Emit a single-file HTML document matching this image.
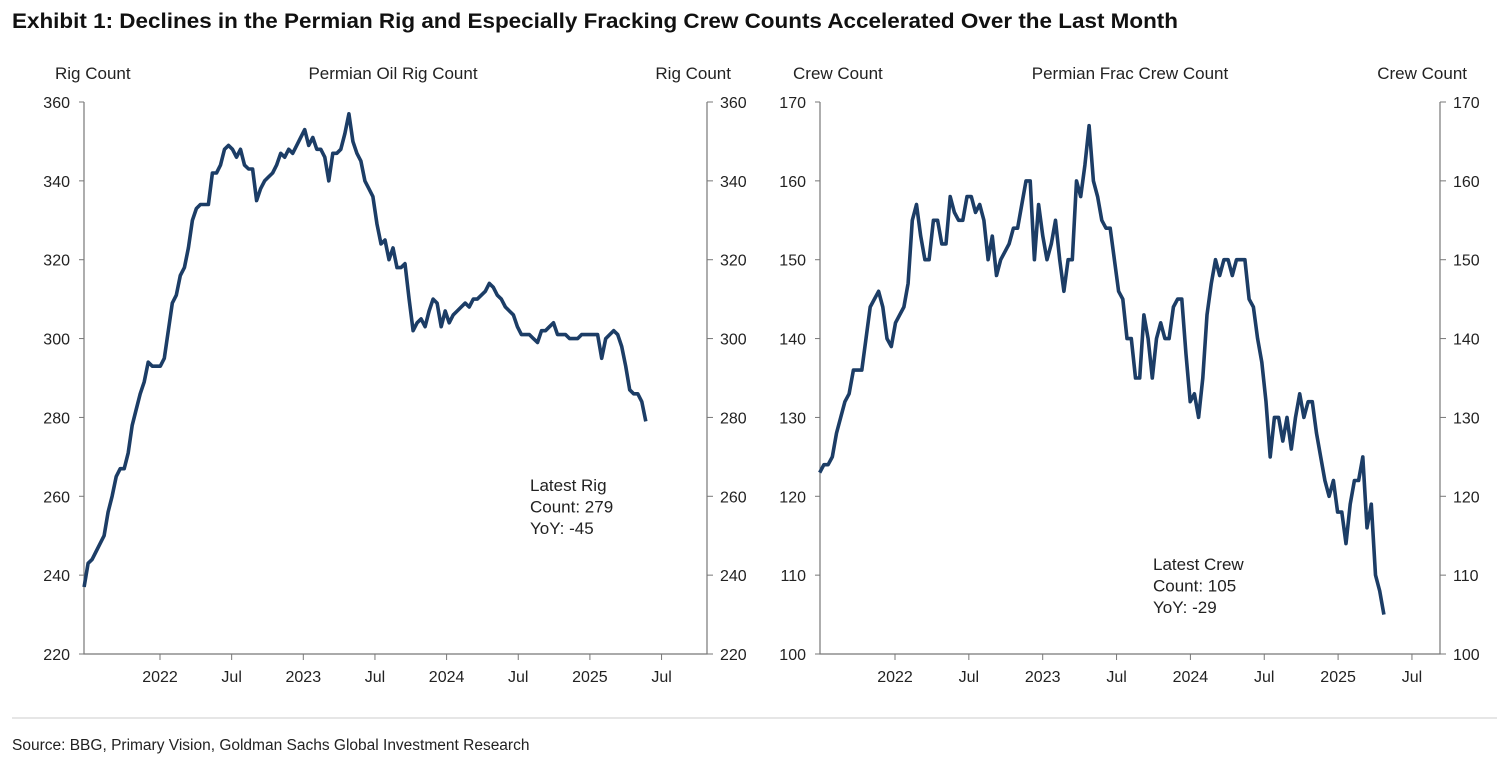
<!DOCTYPE html>
<html><head><meta charset="utf-8"><style>
body{margin:0;background:#fff}
svg{display:block;font-family:"Liberation Sans",Arial,sans-serif}
</style></head><body>
<svg id="root" width="1499" height="757" viewBox="0 0 1499 757">
<text x="12" y="28" font-size="21" font-weight="bold" font-family="'Liberation Sans Narrow','Liberation Sans',sans-serif" textLength="1166" lengthAdjust="spacingAndGlyphs" fill="#111">Exhibit 1: Declines in the Permian Rig and Especially Fracking Crew Counts Accelerated Over the Last Month</text>
<g id="c1"></g>
<g id="c2"></g>
<line x1="12" y1="718" x2="1497" y2="718" stroke="#ccc" stroke-width="1"/>
<text x="12" y="750" font-size="15.5" fill="#222">Source: BBG, Primary Vision, Goldman Sachs Global Investment Research</text>
</svg>
<script>
const rigStart = 2021.47, rigEnd = 2025.39;
const rigValues = [237,243,244,246,248,250,256,260,265,267,267,271,278,282,286,289,294,293,293,293,295,302,309,311,316,318,323,330,333,334,334,334,342,342,344,348,349,348,346,348,344,343,343,335,338,340,341,342,344,347,346,348,347,349,351,353,349,351,348,348,346,340,347,347,348,352,357,350,347,345,340,338,336,329,324,325,320,323,318,318,319,310,302,304,305,303,307,310,309,303,307,304,306,307,308,309,308,310,310,311,312,314,313,311,310,308,307,306,303,301,301,301,300,299,302,302,303,304,301,301,301,300,300,300,301,301,301,301,301,295,300,301,302,301,298,293,287,286,286,284,279];
const crewStart = 2021.49, crewEnd = 2025.31;
const crewValues = [123,124,124,125,128,130,132,133,136,136,136,140,144,145,146,144,140,139,142,143,144,147,155,157,153,150,150,155,155,152,152,158,156,155,155,158,158,156,157,155,150,153,148,150,151,152,154,154,157,160,160,150,157,153,150,152,155,150,146,150,150,160,158,162,167,160,158,155,154,154,150,146,145,140,140,135,135,143,140,135,140,142,140,140,144,145,145,138,132,133,130,135,143,147,150,148,150,150,148,150,150,150,145,144,140,137,132,125,130,130,127,130,126,130,133,130,132,132,128,125,122,120,122,118,118,114,119,122,122,125,116,119,110,108,105];
const xTickYears = [2022,2022.5,2023,2023.5,2024,2024.5,2025,2025.5];
const xTickLabels = ["2022","Jul","2023","Jul","2024","Jul","2025","Jul"];
const rigTicks = [220,240,260,280,300,320,340,360];
const crewTicks = [100,110,120,130,140,150,160,170];

const NS="http://www.w3.org/2000/svg";
function mk(p,t,a){const e=document.createElementNS(NS,t);for(const k in a)e.setAttribute(k,a[k]);p.appendChild(e);return e;}
function chart(g,o){
  const L=o.left,R=o.right,T=102,B=654;
  const x=t=>o.x0+(t-o.y2022)*o.ppy;
  const y=v=>B-(v-o.min)/(o.max-o.min)*(B-T);
  let e=mk(g,'rect',{x:L,y:T,width:R-L,height:B-T,fill:'none',stroke:'none'});
  
  e=mk(g,'path',{d:`M${L},${T}V${B}H${R}V${T}`,fill:'none',stroke:'#777','stroke-width':1.2});
  
  o.ticks.forEach(v=>{
    const yy=y(v);
    mk(g,'line',{x1:L-5,x2:L,y1:yy,y2:yy,stroke:'#777'});
    mk(g,'line',{x1:R,x2:R+6,y1:yy,y2:yy,stroke:'#777'});
    let t=mk(g,'text',{x:L-14,y:yy+6,'font-size':16,'text-anchor':'end',fill:'#222'});t.textContent=v;
    
    t=mk(g,'text',{x:R+13,y:yy+6,'font-size':16,fill:'#222'});t.textContent=v;
    
  });
  xTickYears.forEach((yr,i)=>{
    const xx=x(yr);
    mk(g,'line',{x1:xx,x2:xx,y1:B,y2:B+6,stroke:'#777'});
    const t=mk(g,'text',{x:xx,y:B+28,'font-size':16,'text-anchor':'middle',fill:'#222'});t.textContent=xTickLabels[i];
    
  });
  const n=o.vals.length;let d='';
  o.vals.forEach((v,i)=>{const t=o.start+(o.end-o.start)*i/(n-1);d+=(i?'L':'M')+x(t).toFixed(1)+','+y(v).toFixed(1);});
  e=mk(g,'path',{d,fill:'none',stroke:'#1c3d66','stroke-width':3.6,'stroke-linejoin':'round'});
  
  const lab=(txt,xx,anc,nm)=>{const t=mk(g,'text',{x:xx,y:79,'font-size':17,'text-anchor':anc,fill:'#222'});t.textContent=txt;
    };
  lab(o.yl,o.ylx,'start','left-axis-title');lab(o.title,o.tx,'middle','chart-title');lab(o.yl,o.yrx,'end','right-axis-title');
  o.note.forEach((s,i)=>{const t=mk(g,'text',{x:o.nx,y:o.ny+i*21.5,'font-size':17,fill:'#222'});t.textContent=s;
    });
}
chart(document.getElementById('c1'),{left:84,right:707,x0:160,y2022:2022,ppy:143.3,min:220,max:360,ticks:rigTicks,vals:rigValues,start:rigStart,end:rigEnd,
  yl:'Rig Count',ylx:55,yrx:731,title:'Permian Oil Rig Count',tx:393,note:['Latest Rig','Count: 279','YoY: -45'],nx:530,ny:491});
chart(document.getElementById('c2'),{left:820,right:1440,x0:895,y2022:2022,ppy:147.7,min:100,max:170,ticks:crewTicks,vals:crewValues,start:crewStart,end:crewEnd,
  yl:'Crew Count',ylx:793,yrx:1467,title:'Permian Frac Crew Count',tx:1130,note:['Latest Crew','Count: 105','YoY: -29'],nx:1153,ny:570});
</script>
</body></html>
